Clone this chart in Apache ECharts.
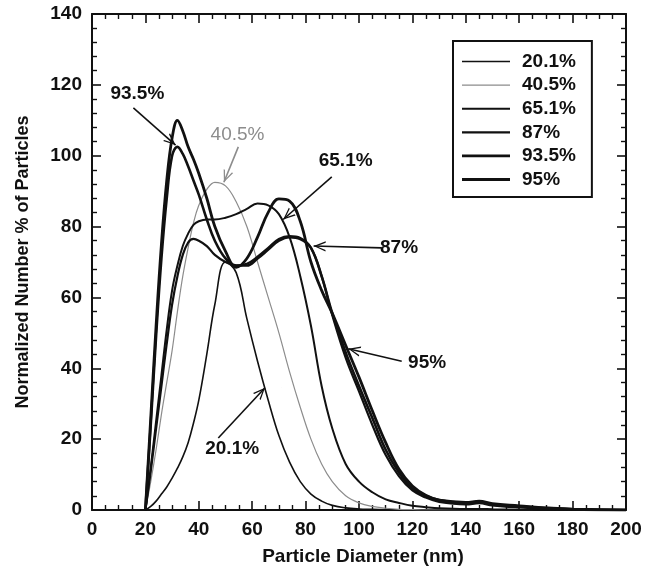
<!DOCTYPE html>
<html>
<head>
<meta charset="utf-8">
<script src="https://cdn.jsdelivr.net/npm/echarts@6/dist/echarts.min.js"></script>
<style>
  html, body { margin: 0; padding: 0; background: #fff; }
  #chart { width: 658px; height: 580px; }
</style>
</head>
<body>
<div id="chart"></div>
<script>
// particle diameter (nm), shared by every curve
const diameter = [20, 22, 24, 26, 28, 30, 32, 34, 36, 38, 40, 43, 46, 50, 54, 58, 62, 66, 70, 74,
  78, 82, 86, 90, 95, 100, 105, 110, 115, 120, 125, 130, 140, 145, 150, 160, 170, 180, 200]

// normalized number %
const p201 = [0, 1, 2.5, 4.5, 6.5, 9, 11.8, 15, 19, 24.5, 31, 44, 58, 70, 67, 54, 42, 31, 21, 13.5,
  8, 4.5, 2.5, 1.3, 0.6, 0.3, 0.2, 0.1, 0, 0, 0, 0, 0, 0, 0, 0, 0, 0, 0]
const p405 = [0, 8, 17, 27, 36, 45, 56, 66, 74, 81, 86, 90.5, 92.5, 91.5, 87, 80, 70, 60, 50, 39,
  29, 20, 13, 8, 4, 2, 1, 0.5, 0.2, 0.1, 0, 0, 0, 0, 0, 0, 0, 0, 0]
const p651 = [0, 12, 25, 38, 51, 62, 69, 74.5, 78, 80.5, 81.5, 82, 82, 82.5, 83.5, 85, 86.5, 86, 83.5, 77,
  66, 52, 35, 23, 13, 8, 5, 3, 2, 1.2, 0.8, 0.5, 0.3, 0.3, 0.2, 0.1, 0, 0, 0]
const p87 = [0, 11, 23, 35, 47, 58, 66, 72, 75.5, 76.5, 76, 74.5, 72, 70, 69, 69.5, 71.5, 74, 76.5, 77.3,
  76.8, 74, 66, 55, 43, 33.5, 24, 15.5, 9.5, 5.5, 3.5, 2.3, 1.6, 1.9, 1.3, 0.7, 0.3, 0.1, 0]
const p935 = [0, 24, 49, 71, 88, 100, 102.5, 100.5, 97, 93, 89, 82, 76, 71, 69, 69, 71, 73.5, 76, 77,
  76.5, 74, 66, 55.5, 44.5, 35, 26, 17, 10.5, 6, 4, 2.8, 2.2, 2.5, 1.8, 1.2, 0.6, 0.3, 0]
const p95 = [0, 26, 52, 75, 93, 105, 110, 107, 102.5, 99, 95, 88, 80, 73, 68.5, 71, 77, 84, 87.8, 87.2,
  81.5, 70, 62, 55.5, 46.5, 37.5, 28, 19, 11.5, 6.8, 4.2, 2.8, 2, 2.3, 1.5, 1, 0.5, 0.2, 0]

const seriesNames = ['20.1%', '40.5%', '65.1%', '87%', '93.5%', '95%']
const seriesValues = [p201, p405, p651, p87, p935, p95]
const lineColors = ['#111', '#8c8c8c', '#111', '#111', '#111', '#111']
const lineWidths = [1.6, 1.2, 2, 2.2, 2.6, 2.8]

// callouts: text position, arrow start, arrow tip (data coords)
const callouts = {
  '93.5%': { text: [17, 117.5], from: [15.5, 113.5], to: [31.3, 103] },
  '40.5%': { text: [54.5, 106], from: [54.8, 102.5], to: [49.4, 92.5] },
  '65.1%': { text: [95, 98.5], from: [89.8, 94], to: [71.6, 82] },
  '87%': { text: [115, 74], from: [108.5, 74], to: [83, 74.5] },
  '95%': { text: [125.5, 41.5], from: [116, 42], to: [96, 45.5] },
  '20.1%': { text: [52.5, 17.3], from: [47.3, 20.3], to: [64.8, 34.5] }
}

// open "V" arrow head, tip sits in the middle of a square box
const arrowHead = 'path://M-14,0L-13.9,0L-13.9,0.1Z M14,0L13.9,0L13.9,0.1Z M0,14L-6,28L-4.3,28L0,17.5L4.3,28L6,28Z'

// legend sample: thin bar centred in a 48x14 box
function legendBar(w) {
  const a = (7 - w / 2).toFixed(2), b = (7 + w / 2).toFixed(2)
  return 'path://M0,0L0.05,0L0,0.05Z M48,14L47.95,14L48,13.95Z M0,' + a + 'H48V' + b + 'H0Z'
}

const font = 'Liberation Sans, Arial, sans-serif'

const chart = echarts.init(document.getElementById('chart'))

const series = seriesNames.map((name, i) => {
  const c = callouts[name]
  const col = lineColors[i]
  return {
    name: name,
    type: 'line',
    smooth: 0.4,
    symbol: 'none',
    xAxisIndex: 0,
    yAxisIndex: 0,
    data: diameter.map((d, k) => [d, seriesValues[i][k]]),
    lineStyle: { color: col, width: lineWidths[i] },
    itemStyle: { color: col },
    markLine: {
      silent: true,
      symbol: ['none', arrowHead],
      symbolSize: 24,
      label: { show: false },
      lineStyle: { color: col, width: 1.6, type: 'solid' },
      data: [[{ coord: c.from }, { coord: c.to }]]
    },
    markPoint: {
      silent: true,
      symbol: 'rect',
      symbolSize: 1,
      itemStyle: { color: 'rgba(0,0,0,0)' },
      label: {
        show: true,
        position: 'inside',
        formatter: name,
        color: i === 1 ? '#8c8c8c' : '#111',
        fontFamily: font,
        fontWeight: i === 1 ? 'normal' : 'bold',
        fontSize: 19
      },
      data: [{ coord: c.text }]
    }
  }
})

const axisLine = { show: true, onZero: false, lineStyle: { color: '#111', width: 2 } }
const tick = { show: true, inside: true, length: 9, lineStyle: { color: '#111', width: 1.6 } }
const minor = { show: true, length: 5, lineStyle: { color: '#111', width: 1.4 } }
const tickLabel = { color: '#111', fontFamily: font, fontWeight: 'bold', fontSize: 19 }

const option = {
  animation: false,
  backgroundColor: '#fff',
  grid: { left: 92, right: 32, top: 14, bottom: 70 },
  legend: {
    data: seriesNames.map((n, i) => ({ name: n, icon: legendBar(lineWidths[i]) })),
    orient: 'vertical',
    left: 453,
    top: 41,
    padding: [11, 16, 8, 9],
    itemWidth: 48,
    itemHeight: 14,
    itemGap: 4.6,
    borderColor: '#111',
    borderWidth: 2,
    textStyle: { color: '#111', fontFamily: font, fontWeight: 'bold', fontSize: 19, padding: [0, 0, 0, 7] }
  },
  xAxis: [
    {
      type: 'value', min: 0, max: 200, interval: 20,
      name: 'Particle Diameter (nm)', nameLocation: 'middle', nameGap: 37,
      nameTextStyle: { color: '#111', fontFamily: font, fontWeight: 'bold', fontSize: 19, padding: [0, 0, 0, 8] },
      axisLine: axisLine, axisTick: tick,
      minorTick: Object.assign({ splitNumber: 4 }, minor),
      axisLabel: Object.assign({ margin: 10 }, tickLabel),
      splitLine: { show: false }
    },
    {
      type: 'value', position: 'top', min: 0, max: 200, interval: 20,
      axisLine: axisLine, axisTick: tick,
      minorTick: Object.assign({ splitNumber: 4 }, minor),
      axisLabel: { show: false }, splitLine: { show: false }
    }
  ],
  yAxis: [
    {
      type: 'value', min: 0, max: 140, interval: 20,
      name: 'Normalized Number % of Particles', nameLocation: 'middle', nameGap: 60,
      nameTextStyle: { color: '#111', fontFamily: font, fontWeight: 'bold', fontSize: 18 },
      axisLine: axisLine, axisTick: tick,
      minorTick: Object.assign({ splitNumber: 5 }, minor),
      axisLabel: Object.assign({ margin: 10 }, tickLabel),
      splitLine: { show: false }
    },
    {
      type: 'value', position: 'right', min: 0, max: 140, interval: 20,
      axisLine: axisLine, axisTick: tick,
      minorTick: Object.assign({ splitNumber: 5 }, minor),
      axisLabel: { show: false }, splitLine: { show: false }
    }
  ],
  series: series
}

chart.setOption(option)
</script>
</body>
</html>
